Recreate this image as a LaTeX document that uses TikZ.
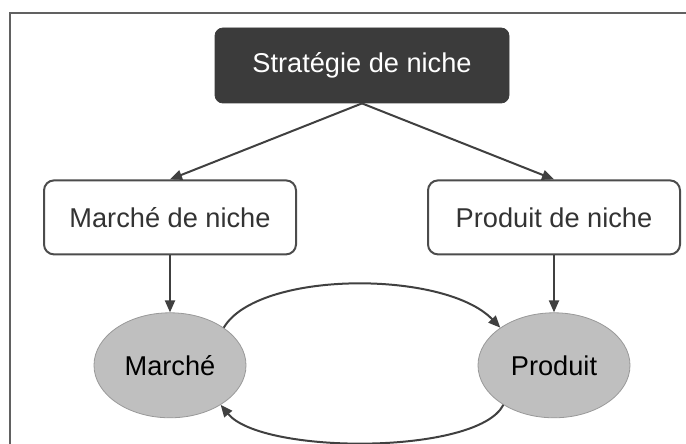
\documentclass[tikz,border=0pt]{standalone}
\usepackage{fontspec}
\setmainfont{Liberation Sans}
\usetikzlibrary{shapes.geometric, arrows.meta, positioning}

\begin{document}
\begin{tikzpicture}[
    x=0.5pt, y=-0.5pt,
    % Node styles
    strategy/.style={
        rectangle, rounded corners=4pt, draw=black!77, fill=black!77,
        minimum width=147pt, minimum height=37.5pt,
        text=white, font=\fontsize{13.6}{16}\selectfont
    },
    niche/.style={
        rectangle, rounded corners=5pt, draw=black!70, fill=white, line width=1pt,
        minimum width=126pt, minimum height=37pt,
        text=black!80, font=\fontsize{13.6}{16}\selectfont
    },
    target/.style={
        ellipse, draw=black!40, fill=black!25, inner sep=0pt,
        minimum width=76pt, minimum height=52.5pt,
        font=\fontsize{13.6}{16}\selectfont
    },
    arrow/.style={-{Triangle[length=6pt, width=5pt]}, line width=1pt, black!75},
    frame/.style={line width=1pt, black!62},
    node distance=38pt
]

\useasboundingbox (0,0) rectangle (686,444);

% Outer frame (top and left edges only)
\draw[frame] (10,444) -- (10,13) -- (686,13);

% ============================================================
% Nodes
% ============================================================

\node[strategy] at (362,65.5) (strat) {Stratégie de niche};

\node[niche, below=38pt of strat, xshift=-96pt] (mniche) {Marché de niche};
\node[niche, below=38pt of strat, xshift=96pt] (pniche) {Produit de niche};

\node[target, below=28.5pt of mniche] (marche) {Marché};
\node[target, below=28.5pt of pniche] (produit) {Produit};

% ============================================================
% Arrows
% ============================================================

\draw[arrow] (strat.south) -- (mniche.north);
\draw[arrow] (strat.south) -- (pniche.north);

\draw[arrow] (mniche) -- (marche);
\draw[arrow] (pniche) -- (produit);

% Loop between market and product
\draw[arrow] (marche.35) .. controls (258,270) and (445,270) .. (produit.145);
\draw[arrow] (produit.218) .. controls (478,455) and (262,455) .. (marche.322);

\end{tikzpicture}
\end{document}
